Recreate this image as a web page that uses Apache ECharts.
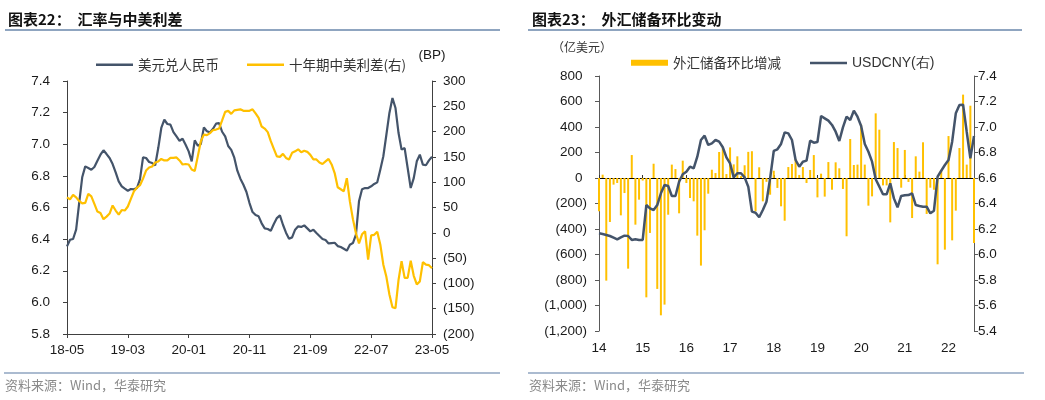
<!DOCTYPE html>
<html><head><meta charset="utf-8">
<script src="https://cdn.jsdelivr.net/npm/echarts@6/dist/echarts.min.js"></script>
<style>html,body{margin:0;padding:0;background:#fff}#c{width:1045px;height:400px}</style>
</head><body><div id="c"></div>
<script>
// ---- Left chart: USDCNY (daily, sampled half-monthly) and 10Y CN-US spread (bp)
const leftTickLabels = ['18-05','19-03','20-01','20-11','21-09','22-07','23-05'];
const usdcnyDaily = [
  6.354, 6.396, 6.401, 6.46, 6.628, 6.791, 6.86, 6.85, 6.839, 6.856,
  6.896, 6.934, 6.962, 6.938, 6.913, 6.875, 6.822, 6.765, 6.734, 6.719,
  6.706, 6.717, 6.715, 6.723, 6.78, 6.917, 6.913, 6.888, 6.881, 6.867,
  6.976, 7.103, 7.155, 7.128, 7.124, 7.077, 7.05, 7.022, 7.035, 6.997,
  6.955,
  6.892, 7.025, 6.991, 7.002, 7.107, 7.082, 7.075, 7.098, 7.13, 7.134,
  7.079, 7.05, 6.989, 6.964, 6.915, 6.833, 6.782, 6.744, 6.698, 6.628,
  6.571, 6.552, 6.544, 6.5, 6.468, 6.464, 6.453, 6.496, 6.533, 6.55,
  6.491, 6.441, 6.403, 6.411, 6.46, 6.481, 6.477, 6.487, 6.468, 6.449,
  6.46, 6.439, 6.42, 6.401, 6.394, 6.373, 6.375, 6.377, 6.356, 6.35,
  6.339, 6.327, 6.365, 6.375, 6.428, 6.639, 6.715, 6.723, 6.723, 6.734,
  6.749, 6.759, 6.839, 6.924, 7.06, 7.198, 7.292, 7.229, 7.071, 6.966,
  6.976, 6.85, 6.723, 6.786, 6.892, 6.934, 6.871, 6.867, 6.898, 6.921
];
const spreadBp = [
  70, 66, 75, 70, 63, 58, 59, 77, 72, 57,
  42, 39, 27, 32, 38, 54, 44, 36, 45, 44,
  52, 67, 82, 89, 94, 107, 123, 129, 131, 139,
  141, 146, 143, 143, 148, 148, 149, 143, 135, 136,
  135,
  125, 122, 151, 181, 194, 193, 197, 203, 204, 206,
  222, 239, 241, 235, 242, 243, 244, 241, 241, 241,
  244, 236, 227, 210, 206, 199, 181, 166, 151, 150,
  156, 148, 145, 158, 161, 165, 159, 162, 160, 154,
  145, 145, 139, 136, 141, 146, 135, 118, 90, 86,
  82, 108, 62, 27, -1, -21, -3, 3, -53, -5,
  -4, 2, -23, -63, -87, -122, -147, -149, -93, -56,
  -89, -89, -55, -85, -102, -96, -58, -63, -64, -70
];

// ---- Right chart: monthly FX reserve change (100m USD) and USDCNY
const yearLabels = ['14','15','16','17','18','19','20','21','22'];
const fxReserveChange = [
  -261, 26, -805, -345, -52, -39, -293, -118, -711, 180, -366, -170,
  -20, -936, -431, 112, -870, -1077, -993, -288, 105, 70, -277, 136,
  -39, -157, -183, -452, -687, -410, -123, 65, 39, 204, 240, 31,
  240, 107, 170, 15, 100, 205, 210, -261, 84, -183, -30, -131,
  57, -78, -222, -335, 86, 110, 149, 24, 86, -39, 63, 180,
  -152, 34, -146, 125, -92, 123, 76, -86, -457, 306, 102, 105,
  418, 105, -217, -144, 507, 379, -58, -58, -348, 282, 235, -76,
  220, -31, -314, 170, 50, 280, -282, -76, -92, -677, 57, -562,
  329, -489, -256, 235, 654, 105, 567, -510
];
const usdcnyMonthly = [
  6.166, 6.161, 6.153, 6.145, 6.132, 6.119, 6.135, 6.148, 6.145, 6.114, 6.119, 6.114,
  6.114, 6.388, 6.362, 6.349, 6.388, 6.48, 6.545, 6.537, 6.459, 6.459, 6.571, 6.629,
  6.649, 6.689, 6.676, 6.767, 6.898, 6.932, 6.859, 6.872, 6.898, 6.885, 6.841, 6.762,
  6.715, 6.605, 6.637, 6.637, 6.605, 6.532, 6.336, 6.328, 6.292, 6.349, 6.414, 6.597,
  6.812, 6.825, 6.867, 6.958, 6.95, 6.898, 6.741, 6.689, 6.728, 6.736, 6.893, 6.877,
  6.882, 7.086, 7.068, 7.05, 7.016, 6.963, 6.89, 6.997, 7.081, 7.055, 7.128, 7.081,
  7.008, 6.867, 6.806, 6.728, 6.59, 6.532, 6.472, 6.472, 6.558, 6.44, 6.37, 6.459,
  6.464, 6.466, 6.48, 6.388, 6.38, 6.375, 6.375, 6.323, 6.344, 6.61, 6.657, 6.702,
  6.741, 6.885, 7.107, 7.173, 7.175, 6.963, 6.754, 6.93
];

const leftCats = usdcnyDaily.map((_, i) => String(i));
const rightCats = fxReserveChange.map((_, i) => String(i));

const CJK = '"Noto Sans CJK SC", sans-serif';
const LAT = '"Liberation Sans", Arial, sans-serif';
const AX = '#404040';
const AX2 = '#595959';
const TXT = '#1a1a1a';
const DARK = '#44546A';
const GOLD = '#FFC000';
const RULE = '#8FA5C0';

function thousands(n) { return String(n).replace(/\B(?=(\d{3})+(?!\d))/g, ','); }
function parenNum(v) { return v < 0 ? '(' + thousands(-v) + ')' : thousands(v); }

const lblBase = { fontFamily: LAT, fontSize: 13.5, color: TXT };
const legendText = { fontFamily: CJK, fontSize: 13.5, color: '#333' };

const chart = echarts.init(document.getElementById('c'), null, { renderer: 'canvas' });
chart.setOption({
  animation: false,
  backgroundColor: '#fff',
  textStyle: { fontFamily: LAT },
  graphic: [
    { type: 'text', x: 8, y: 19, style: { text: '图表22：  汇率与中美利差', font: 'bold 15px "Noto Sans CJK SC"', fill: '#111', verticalAlign: 'middle' } },
    { type: 'line', shape: { x1: 5, y1: 30, x2: 500, y2: 30 }, style: { stroke: RULE, lineWidth: 2 } },
    { type: 'text', x: 532, y: 19, style: { text: '图表23：  外汇储备环比变动', font: 'bold 15px "Noto Sans CJK SC"', fill: '#111', verticalAlign: 'middle' } },
    { type: 'line', shape: { x1: 528, y1: 30, x2: 1022, y2: 30 }, style: { stroke: RULE, lineWidth: 2 } },
    { type: 'text', x: 552, y: 47, style: { text: '（亿美元）', font: '12px "Noto Sans CJK SC"', fill: '#333', verticalAlign: 'middle' } },
    { type: 'line', shape: { x1: 4, y1: 373, x2: 500, y2: 373 }, style: { stroke: RULE, lineWidth: 1.5 } },
    { type: 'line', shape: { x1: 528, y1: 373, x2: 1024, y2: 373 }, style: { stroke: RULE, lineWidth: 1.5 } },
    { type: 'text', x: 5, y: 385, style: { text: '资料来源：Wind，华泰研究', font: '13px "Noto Sans CJK SC"', fill: '#8a8a8a', verticalAlign: 'middle' } },
    { type: 'text', x: 529, y: 385, style: { text: '资料来源：Wind，华泰研究', font: '13px "Noto Sans CJK SC"', fill: '#8a8a8a', verticalAlign: 'middle' } }
  ],
  grid: [
    { left: 67, top: 81, width: 365, height: 253, containLabel: false },
    { left: 599, top: 76, width: 375, height: 255, containLabel: false }
  ],
  legend: [
    { left: 96, top: 58, padding: 0, icon: 'rect', itemWidth: 37, itemHeight: 2.5, itemGap: 28,
      data: ['美元兑人民币', '十年期中美利差(右)'], textStyle: legendText },
    { left: 631, top: 56, padding: 0, icon: 'rect', itemWidth: 37, itemHeight: 6,
      data: ['外汇储备环比增减'], textStyle: legendText },
    { left: 810, top: 56, padding: 0, icon: 'rect', itemWidth: 37, itemHeight: 2.5,
      data: ['USDCNY(右)'], textStyle: { ...legendText, fontFamily: LAT, fontSize: 14 } }
  ],
  xAxis: [
    { gridIndex: 0, type: 'category', data: leftCats, boundaryGap: false,
      axisLine: { onZero: false, lineStyle: { color: AX, width: 1 } },
      axisTick: { interval: 19, length: 4, lineStyle: { color: AX } },
      axisLabel: { interval: 19, margin: 9, ...lblBase,
        formatter: (v, i) => leftTickLabels[Math.round(i / 20)] },
      splitLine: { show: false } },
    { gridIndex: 1, type: 'category', data: rightCats, boundaryGap: false,
      axisLine: { show: false, onZero: false },
      axisTick: { show: false },
      axisLabel: { interval: 11, margin: 10, ...lblBase,
        formatter: (v, i) => yearLabels[Math.round(i / 12)] },
      splitLine: { show: false } },
    { gridIndex: 1, type: 'category', data: rightCats, boundaryGap: false,
      axisLine: { show: true, onZero: true, onZeroAxisIndex: 2, lineStyle: { color: '#000', width: 1 } },
      axisTick: { show: true, interval: 11, length: 3, lineStyle: { color: '#333' } },
      axisLabel: { show: false },
      splitLine: { show: false } }
  ],
  yAxis: [
    { gridIndex: 0, type: 'value', min: 5.8, max: 7.4, interval: 0.2,
      axisLine: { show: true, lineStyle: { color: AX } },
      axisTick: { show: true, length: 4, lineStyle: { color: AX } },
      axisLabel: { margin: 17, ...lblBase, formatter: v => v.toFixed(1) },
      splitLine: { show: false } },
    { gridIndex: 0, type: 'value', position: 'right', min: -200, max: 300, interval: 50,
      name: '(BP)', nameLocation: 'end', nameGap: 19,
      nameTextStyle: { ...lblBase, align: 'center' },
      axisLine: { show: true, lineStyle: { color: AX } },
      axisTick: { show: true, length: 4, lineStyle: { color: AX } },
      axisLabel: { margin: 11, ...lblBase, formatter: v => parenNum(v) },
      splitLine: { show: false } },
    { gridIndex: 1, type: 'value', min: -1200, max: 800, interval: 200,
      axisLine: { show: true, lineStyle: { color: AX2 } },
      axisTick: { show: true, length: 4, lineStyle: { color: AX2 } },
      axisLabel: { margin: 12, ...lblBase,
        formatter: v => v < 0 ? parenNum(v) : '{p|' + thousands(v) + '}',
        rich: { p: { ...lblBase, padding: [0, 4.5, 0, 0] } } },
      splitLine: { show: false } },
    { gridIndex: 1, type: 'value', position: 'right', min: 5.4, max: 7.4, interval: 0.2,
      axisLine: { show: true, lineStyle: { color: AX2 } },
      axisTick: { show: true, length: 4, lineStyle: { color: AX2 } },
      axisLabel: { margin: 4, ...lblBase, formatter: v => v.toFixed(1) },
      splitLine: { show: false } }
  ],
  series: [
    { name: '美元兑人民币', type: 'line', xAxisIndex: 0, yAxisIndex: 0, data: usdcnyDaily,
      symbol: 'none', lineStyle: { color: DARK, width: 2.2 }, itemStyle: { color: DARK } },
    { name: '十年期中美利差(右)', type: 'line', xAxisIndex: 0, yAxisIndex: 1, data: spreadBp,
      symbol: 'none', lineStyle: { color: GOLD, width: 2.2 }, itemStyle: { color: GOLD } },
    { name: '外汇储备环比增减', type: 'bar', xAxisIndex: 1, yAxisIndex: 2, data: fxReserveChange,
      barWidth: 2, clip: false, itemStyle: { color: GOLD } },
    { name: 'USDCNY(右)', type: 'line', xAxisIndex: 1, yAxisIndex: 3, data: usdcnyMonthly,
      symbol: 'none', lineStyle: { color: DARK, width: 2.5 }, itemStyle: { color: DARK }, z: 3 }
  ]
});
</script>
</body></html>
